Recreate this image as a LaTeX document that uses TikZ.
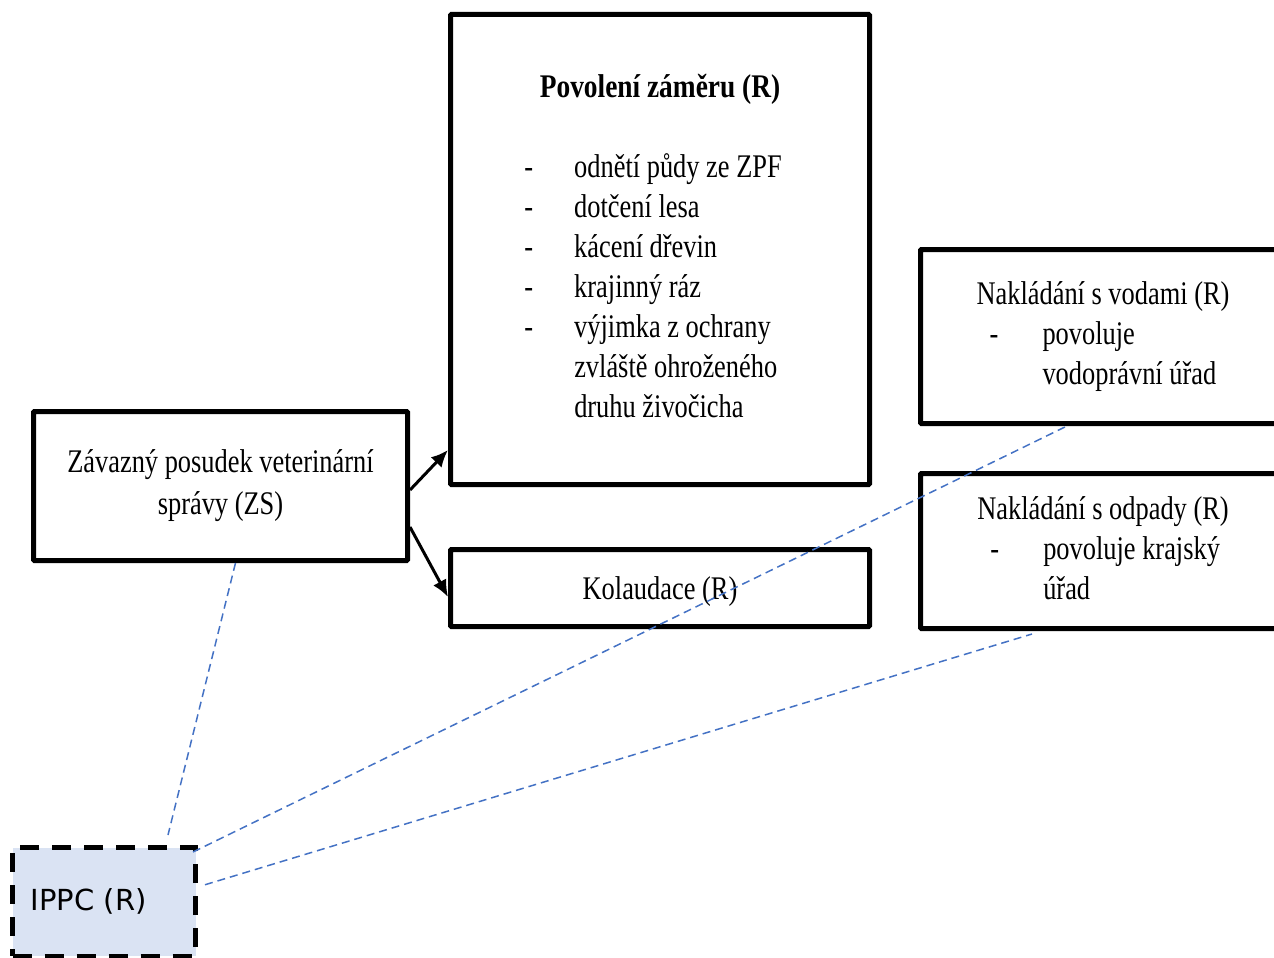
\documentclass[tikz,border=0pt]{standalone}
\usepackage{fontspec}
\setmainfont[FakeStretch=0.8, BoldFeatures={FakeStretch=0.83}]{Liberation Serif}
\newfontfamily\ippcfont{DejaVu Sans}
\usetikzlibrary{arrows.meta, positioning}
\definecolor{IPPCModra}{RGB}{218,227,243}
\definecolor{SpojModra}{RGB}{68,114,196}

\begin{document}
\begin{tikzpicture}[x=1pt, y=-1pt,
    rbox/.style={draw, line width=5pt, rounded corners=1pt, inner sep=0pt, font=\fontsize{33}{40}\selectfont},
    ippcbox/.style={draw, line width=5pt, dash pattern=on 19pt off 13pt, fill=IPPCModra, align=left, font=\ippcfont\fontsize{29}{35}\selectfont},
    sipka/.style={line width=3pt, -{Latex[length=17pt, width=15pt]}},
    vazba/.style={SpojModra, line width=1.5pt, dash pattern=on 8pt off 5pt}]
\useasboundingbox (0,0) rectangle (1274,958);
\clip (0,0) rectangle (1274,958);

\node[rbox, minimum width=419pt, minimum height=470pt] (povoleni) at (660, 249.5) {%
\begin{tabular}{@{}p{50pt}@{}l@{\hspace{14pt}}}
\multicolumn{2}{c}{\textbf{Povolení záměru (R)}\hspace{6pt}}\\
 & \\
- & odnětí půdy ze ZPF\\
- & dotčení lesa\\
- & kácení dřevin\\
- & krajinný ráz\\
- & výjimka z ochrany\\
 & zvláště ohroženého\\
 & druhu živočicha
\end{tabular}};
\node[rbox, minimum width=419pt, minimum height=77pt, text depth=0pt] (kolaudace) at (660, 588) {Kolaudace (R)};
\node[rbox, minimum width=374pt, minimum height=149pt, align=center, font=\fontsize{33}{42}\selectfont] (zs) at (220.5, 486) {Závazný posudek veterinární\\správy (ZS)};

\node[rbox, minimum width=365pt, minimum height=174pt] (voda) at (1103, 336.5) {%
\begin{tabular}{@{}p{72pt}@{}l@{}}
\multicolumn{2}{c}{Nakládání s vodami (R)}\\
\hspace*{19pt}- & povoluje\\
 & vodoprávní úřad
\end{tabular}};
\node[rbox, minimum width=365pt, minimum height=155pt] (odpad) at (1103, 551) {%
\begin{tabular}{@{}p{72pt}@{}l@{}}
\multicolumn{2}{c}{Nakládání s odpady (R)}\\
\hspace*{19pt}- & povoluje krajský\\
 & úřad
\end{tabular}};

\node[ippcbox, minimum width=183pt, minimum height=108.5pt, text width=147pt, inner xsep=18pt] (ippc) at (104, 901.75) {IPPC (R)};

% sipky
\draw[sipka] ([yshift=-4pt]zs.east) -- ([yshift=37pt]povoleni.south west);
\draw[sipka] ([yshift=-41pt]zs.east) -- ([yshift=-9pt]kolaudace.west);

% IPPC
\draw[vazba] ([xshift=15pt]zs.south) -- ([xshift=64pt, yshift=10pt]ippc.north);
\draw[vazba] ([xshift=-5pt, yshift=-7pt]ippc.north east) -- ([xshift=-36pt]voda.south);
\draw[vazba] ([xshift=7pt, yshift=17pt]ippc.east) -- ([xshift=-71pt, yshift=-3pt]odpad.south);
\end{tikzpicture}
\end{document}
